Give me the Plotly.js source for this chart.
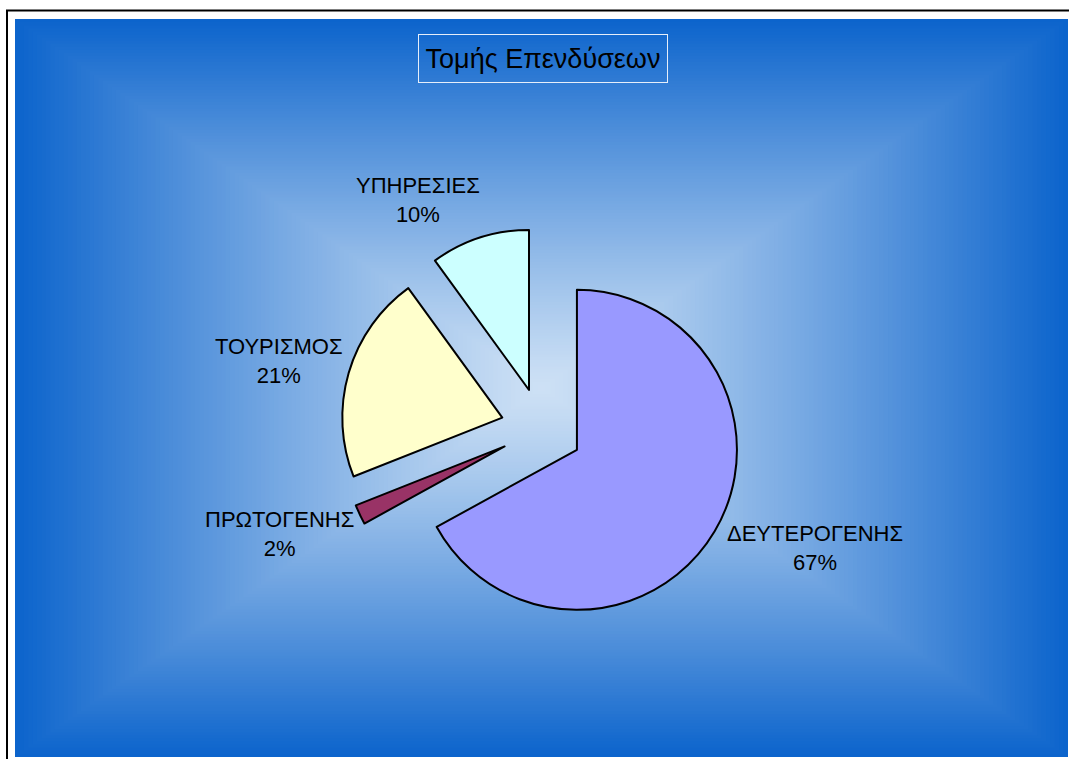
<!DOCTYPE html>
<html>
<head>
<meta charset="utf-8">
<script src="https://cdn.plot.ly/plotly-3.0.1.min.js"></script>
<style>html,body{margin:0;padding:0;background:#fff;}#chart{width:1069px;height:759px;}</style>
</head>
<body>
<div id="chart"></div>
<script>
// ---- data ----
var categories = ['ΔΕΥΤΕΡΟΓΕΝΗΣ', 'ΠΡΩΤΟΓΕΝΗΣ', 'ΤΟΥΡΙΣΜΟΣ', 'ΥΠΗΡΕΣΙΕΣ'];
var percents = [67, 2, 21, 10];
var sliceColors = ['#9999FF', '#993366', '#FFFFCC', '#CCFFFF'];
var chartTitle = 'Τομής Επενδύσεων';

// ---- layout helpers ----
var W = 1069, H = 759;
function px(x) { return x / W; }
function py(y) { return 1 - y / H; }

// rectangular "from centre" gradient background
var shapes = [];
var gx0 = 15, gx1 = 1068, gy0 = 19, gy1 = 757;
var cxg = (gx0 + gx1) / 2, cyg = (gy0 + gy1) / 2;
var hw = (gx1 - gx0) / 2, hh = (gy1 - gy0) / 2;
var cIn = [206, 225, 245], cOut = [12, 100, 204];
var N = 120;
for (var i = 0; i < N; i++) {
  var t = 1 - i / N;
  var f = Math.pow(t, 1.15);
  var c = cIn.map(function (v, k) { return Math.round(v + (cOut[k] - v) * f); });
  shapes.push({
    type: 'rect', xref: 'paper', yref: 'paper', layer: 'below',
    x0: px(cxg - hw * t), x1: px(cxg + hw * t),
    y0: py(cyg + hh * t), y1: py(cyg - hh * t),
    fillcolor: 'rgb(' + c.join(',') + ')', line: { width: 0 }
  });
}
// outer border lines
shapes.push({ type: 'line', xref: 'paper', yref: 'paper', x0: px(7), x1: px(7), y0: py(10), y1: py(H + 5), line: { color: '#000', width: 2 } });
shapes.push({ type: 'line', xref: 'paper', yref: 'paper', x0: px(6), x1: px(W + 5), y0: py(10.5), y1: py(10.5), line: { color: '#000', width: 2 } });

// label positions (pixel centres)
var labelPos = [[815, 548], [279, 534], [279, 361], [418, 200]];
var annotations = categories.map(function (name, i) {
  return {
    xref: 'paper', yref: 'paper', x: px(labelPos[i][0]), y: py(labelPos[i][1]),
    xanchor: 'center', yanchor: 'middle', showarrow: false,
    text: name + '<br>' + percents[i] + '%',
    font: { family: 'Liberation Sans, Arial, sans-serif', size: 22, color: '#000' }
  };
});
annotations.push({
  xref: 'paper', yref: 'paper', x: px(543), y: py(58.5), xanchor: 'center', yanchor: 'middle',
  showarrow: false, text: chartTitle, width: 248, height: 47,
  bordercolor: '#E6EEFA', borderwidth: 1, borderpad: 0,
  font: { family: 'Liberation Sans, Arial, sans-serif', size: 27, color: '#000' }
});

var trace = {
  type: 'pie',
  labels: categories,
  values: percents,
  sort: false,
  direction: 'clockwise',
  rotation: 0,
  pull: 0.256,
  textinfo: 'none',
  hoverinfo: 'label+percent',
  marker: { colors: sliceColors, line: { color: '#000', width: 2 } },
  domain: { x: [0.2067, 0.8067], y: [0.1700, 0.6996] },
  showlegend: false
};

var layout = {
  width: W, height: H,
  margin: { l: 0, r: 0, t: 0, b: 0 },
  paper_bgcolor: '#FFFFFF',
  plot_bgcolor: 'rgba(0,0,0,0)',
  showlegend: false,
  shapes: shapes,
  annotations: annotations
};

Plotly.newPlot('chart', [trace], layout, { displayModeBar: false, staticPlot: true });
</script>
</body>
</html>
